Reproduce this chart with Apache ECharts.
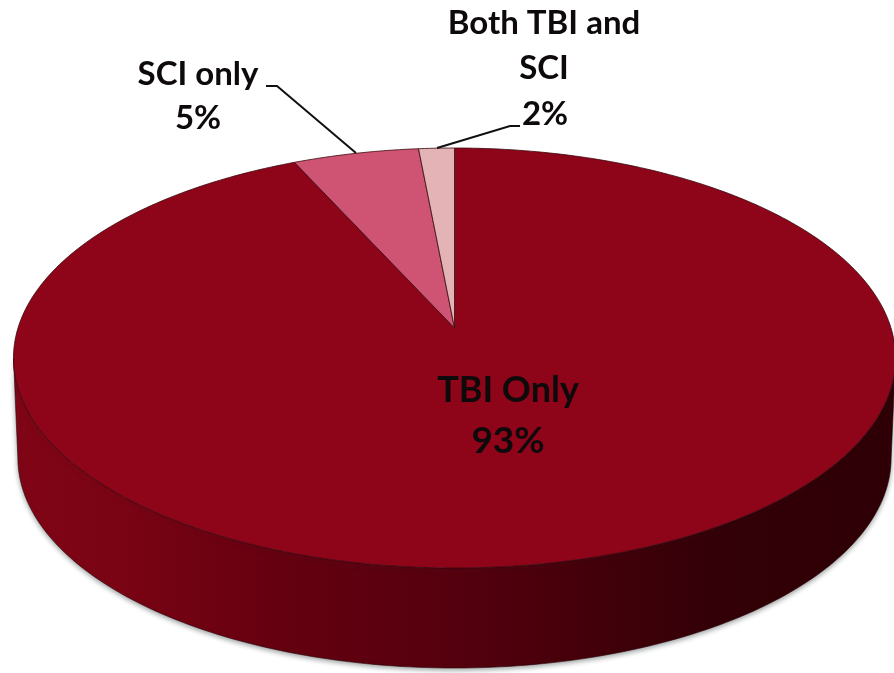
<!DOCTYPE html>
<html>
<head>
<meta charset="utf-8">
<title>pie</title>
<style>
html,body{margin:0;padding:0;background:#fff;}
#chart{width:894px;height:673px;}
</style>
<script src="https://cdn.jsdelivr.net/npm/echarts@6/dist/echarts.min.js"></script>
</head>
<body>
<div id="chart"></div>
<script>
// values, the printed labels are rounded
var categories = ['TBI Only', 'SCI only', 'Both TBI and SCI'];
var sliceValues = [93.2, 5.3, 1.5];
var sliceLabels = ['93%', '5%', '2%'];
var sliceColors = ['#8e0418', '#cf5372', '#e3b3b5'];

// fake 3d: the circle is projected, so the far half comes out shorter
var apexX = 454.5, apexY = 328;
var k = 1 / 7, a = 205.7, b = 436.5;
var depth = 100;

function rim(theta) {
  var d = 1 + k * Math.cos(theta);
  return [apexX + b * Math.sin(theta) / d, apexY - a * Math.cos(theta) / d];
}
function lower(p) {
  return [apexX + (p[0] - apexX) * 0.99, p[1] + depth];
}
function toAngle(v) {
  return v / 100 * Math.PI * 2;
}

var wallColor = new echarts.graphic.LinearGradient(0, 0, 1, 0, [
  {offset: 0, color: '#800516'},
  {offset: 0.12, color: '#7a0413'},
  {offset: 0.3, color: '#650010'},
  {offset: 0.5, color: '#55000e'},
  {offset: 0.66, color: '#43000a'},
  {offset: 0.8, color: '#330007'},
  {offset: 1, color: '#2e0006'}
]);

function renderWall() {
  var start = Math.acos(-k), end = Math.PI * 2 - start;
  var top = [], bottom = [];
  for (var i = 0; i <= 160; i++) {
    var p = rim(start + (end - start) * i / 160);
    top.push(p);
    bottom.unshift(lower(p));
  }
  return {
    type: 'polygon',
    shape: {points: top.concat(bottom)},
    style: {
      fill: wallColor,
      stroke: '#2a0005',
      lineWidth: 0.6,
      shadowBlur: 5,
      shadowOffsetY: 2,
      shadowColor: 'rgba(40,50,50,0.45)'
    }
  };
}

function renderSlice(params, api) {
  var before = 0;
  for (var i = 0; i < params.dataIndex; i++) before += sliceValues[i];
  var from = toAngle(before), to = toAngle(before + api.value(0));
  var pts = [[apexX, apexY]];
  var steps = Math.max(4, Math.round((to - from) * 60));
  for (var j = 0; j <= steps; j++) {
    pts.push(rim(from + (to - from) * j / steps));
  }
  return {
    type: 'polygon',
    shape: {points: pts},
    style: {
      fill: sliceColors[params.dataIndex],
      stroke: '#3a0a10',
      lineWidth: 0.8
    }
  };
}

function label(text, x, y, size) {
  return {
    type: 'text',
    z: 100,
    x: x,
    y: y,
    style: {
      text: text,
      font: 'bold ' + size + 'px Lato, "Open Sans", sans-serif',
      fill: '#0e0a0b',
      textAlign: 'center',
      textVerticalAlign: 'middle'
    }
  };
}
function leader(points) {
  return {
    type: 'polyline',
    z: 100,
    shape: {points: points},
    style: {stroke: '#111', lineWidth: 2, fill: null}
  };
}

var myChart = echarts.init(document.getElementById('chart'), null, {renderer: 'canvas'});
myChart.setOption({
  animation: false,
  backgroundColor: '#fff',
  series: [{
    type: 'custom',
    coordinateSystem: 'none',
    silent: true,
    data: [[1]],
    renderItem: renderWall,
    z: 1
  }, {
    type: 'custom',
    coordinateSystem: 'none',
    silent: true,
    data: sliceValues.map(function (v, i) {
      return {name: categories[i], value: [v]};
    }),
    renderItem: renderSlice,
    z: 2
  }],
  graphic: {
    z: 100,
    elements: [
      leader([[266, 86], [277, 86], [356, 153]]),
      leader([[437, 148], [510, 126], [520, 126]]),
      label('Both TBI and', 544, 23, 33),
      label('SCI', 544, 68, 33),
      label(sliceLabels[2], 545, 114, 33),
      label(categories[1], 198, 74, 33),
      label(sliceLabels[1], 198, 118, 33),
      label(categories[0], 508, 390, 36),
      label(sliceLabels[0], 508, 441, 37)
    ]
  }
});
</script>
</body>
</html>
